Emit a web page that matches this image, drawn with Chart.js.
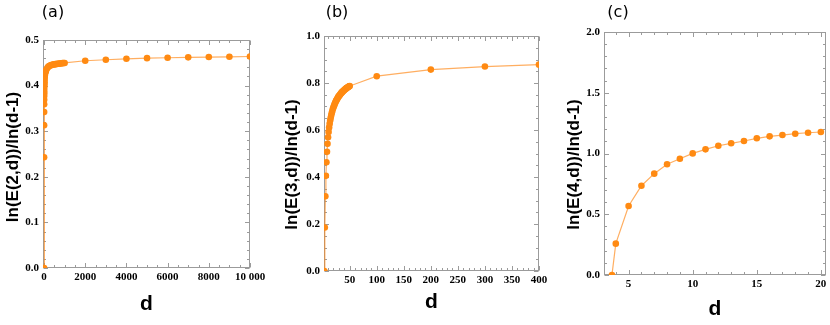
<!DOCTYPE html>
<html>
<head>
<meta charset="utf-8">
<title>ln(E(n,d))/ln(d-1)</title>
<script src="https://cdn.jsdelivr.net/npm/chart.js@4.4.1/dist/chart.umd.min.js"></script>
<style>
  html, body { margin: 0; padding: 0; background: #fff; }
  .wrap { position: relative; width: 830px; height: 325px; overflow: hidden; }
  .wrap canvas { position: absolute; top: 0; }
  #chartA { left: 0; }
  #chartB { left: 270px; }
  #chartC { left: 550px; }
</style>
</head>
<body>
<div class="wrap">
  <canvas id="chartA" width="270" height="325"></canvas>
  <canvas id="chartB" width="280" height="325"></canvas>
  <canvas id="chartC" width="280" height="325"></canvas>
</div>
<script>
/* data */

// (a) E(2,d)
const dA = [2, 3, 4, 5, 6, 7, 8, 9, 10, 12, 14, 16, 18, 20, 25, 30, 35, 40, 45, 50,
    60, 70, 80, 90, 100, 150, 200, 250, 300, 350, 400, 450, 500, 550, 600, 650,
    700, 750, 800, 850, 900, 950, 1000, 2000, 3000, 4000, 5000, 6000, 7000,
    8000, 9000, 10000];
const eA = [0, 0.243, 0.313, 0.342, 0.359, 0.369, 0.377, 0.383, 0.388, 0.395, 0.400,
    0.404, 0.407, 0.410, 0.415, 0.419, 0.422, 0.424, 0.426, 0.428,
    0.430, 0.431, 0.432, 0.433, 0.434, 0.438, 0.441, 0.443, 0.444, 0.445, 0.4455,
    0.446, 0.4465, 0.447, 0.4473, 0.4477, 0.448, 0.4483, 0.4486, 0.4489, 0.4492,
    0.4495, 0.4497, 0.4545, 0.4567, 0.4588, 0.4602, 0.4611, 0.4619, 0.4626,
    0.4632, 0.4638];

// (b) E(3,d)
const dB = [3, 4, 5, 6, 7, 8, 9, 10, 11, 12, 13, 14, 15, 16, 17, 18, 19, 20, 21, 22,
    23, 24, 25, 26, 27, 28, 29, 30, 31, 32, 33, 34, 35, 36, 37, 38, 39, 40, 41,
    42, 43, 44, 45, 46, 47, 48, 49, 50, 100, 200, 300, 400];
const eB = [0, 0.185, 0.318, 0.405, 0.463, 0.507, 0.541, 0.569, 0.592, 0.611, 0.627,
    0.641, 0.653, 0.664, 0.673, 0.682, 0.690, 0.697, 0.703, 0.709, 0.715, 0.720,
    0.725, 0.729, 0.733, 0.737, 0.741, 0.744, 0.747, 0.750, 0.753, 0.756, 0.759,
    0.761, 0.764, 0.766, 0.768, 0.770, 0.772, 0.774, 0.776, 0.778, 0.780, 0.781,
    0.783, 0.784, 0.786, 0.787, 0.829, 0.857, 0.870, 0.878];

// (c) E(4,d)
const dC = [3.7, 4, 5, 6, 7, 8, 9, 10, 11, 12, 13, 14, 15, 16, 17, 18, 19, 20];
const eC = [0, 0.258, 0.568, 0.735, 0.834, 0.911, 0.957, 1.001, 1.034, 1.064, 1.084,
    1.103, 1.125, 1.141, 1.152, 1.163, 1.171, 1.177];

// axis ranges, labelled ticks and minor tick steps
const xRangeA = [-50, 10000], yRangeA = [0, 0.5];
const xTicksA = [0, 2000, 4000, 6000, 8000, 10000];
const yTicksA = [0, 0.1, 0.2, 0.3, 0.4, 0.5];
const minorA = [500, 0.02];

const xRangeB = [2.5, 400], yRangeB = [0, 1.0];
const xTicksB = [50, 100, 150, 200, 250, 300, 350, 400];
const yTicksB = [0, 0.2, 0.4, 0.6, 0.8, 1.0];
const minorB = [10, 0.05];

const xRangeC = [3.08, 20.4], yRangeC = [0, 2.0];
const xTicksC = [5, 10, 15, 20];
const yTicksC = [0, 0.5, 1.0, 1.5, 2.0];
const minorC = [1, 0.1];

/* plugins */

// Mathematica-style frame with inward ticks on all four sides
const frameTicks = {
    id: 'frameTicks',
    beforeDatasetsDraw(chart, args, opts) {
        const { ctx, chartArea: a, scales: { x, y } } = chart;
        const L = Math.round(a.left) + 0.5, R = Math.round(a.right) - 0.5;
        const T = Math.round(a.top) + 0.5, B = Math.round(a.bottom) - 0.5;
        ctx.save();
        ctx.strokeStyle = '#9b9b9b';
        ctx.lineWidth = 1;
        ctx.strokeRect(L, T, R - L, B - T);

        const marks = (scale, minor) => {
            const majors = scale.ticks.map(t => t.value);
            const out = [];
            const first = Math.ceil(scale.min / minor - 1e-9);
            for (let i = first; i * minor <= scale.max + minor * 1e-6; i++) {
                const v = i * minor;
                const major = majors.some(m => Math.abs(m - v) < minor * 1e-3);
                out.push({ p: Math.round(scale.getPixelForValue(v)) + 0.5, len: major ? 4.5 : 2.5 });
            }
            return out;
        };

        ctx.beginPath();
        marks(x, opts.xMinor).forEach(m => {
            ctx.moveTo(m.p, B); ctx.lineTo(m.p, B - m.len);
            ctx.moveTo(m.p, T); ctx.lineTo(m.p, T + m.len);
        });
        marks(y, opts.yMinor).forEach(m => {
            ctx.moveTo(L, m.p); ctx.lineTo(L + m.len, m.p);
            ctx.moveTo(R, m.p); ctx.lineTo(R - m.len, m.p);
        });
        ctx.stroke();
        ctx.restore();
    }
};

// panel tag "(a)" and the rotated y title, placed relative to the frame
const panelText = {
    id: 'panelText',
    afterDraw(chart, args, opts) {
        const { ctx, chartArea: a } = chart;
        ctx.save();
        ctx.fillStyle = '#000';
        ctx.textAlign = 'center';
        ctx.textBaseline = 'middle';
        ctx.font = '16px "DejaVu Sans", sans-serif';
        ctx.fillText(opts.label, a.left + opts.labelDx, 13);

        ctx.translate(opts.titleX, (a.top + a.bottom) / 2 + opts.titleDy);
        ctx.rotate(-Math.PI / 2);
        ctx.font = 'bold 17px "Liberation Sans", Arial, sans-serif';
        ctx.fillText(opts.title, 0, 0);
        ctx.restore();
    }
};

/* panel builder */

const tickFont = { family: '"Liberation Serif", "Times New Roman", serif', size: 11, weight: 'bold' };
const xTitleFont = { family: '"Liberation Sans", Arial, sans-serif', size: 21, weight: 'bold' };

const fmtX = v => v >= 10000 ? '10 000' : String(v);

function makePanel(id, p) {
    const points = p.d.map((d, i) => ({ x: d, y: p.e[i] }));
    new Chart(document.getElementById(id), {
        type: 'scatter',
        data: {
            datasets: [{
                data: points,
                showLine: true,
                borderColor: 'rgba(255, 140, 30, 0.7)',
                borderWidth: 1.2,
                backgroundColor: '#ff8a12',
                pointBackgroundColor: '#ff8a12',
                pointBorderWidth: 0,
                pointRadius: 3.3,
                clip: 0,
            }],
        },
        options: {
            responsive: false,
            animation: false,
            layout: { padding: { top: p.top, right: p.right, bottom: 0, left: 0 } },
            plugins: {
                legend: { display: false },
                tooltip: { enabled: false },
                frameTicks: { xMinor: p.minor[0], yMinor: p.minor[1] },
                panelText: {
                    label: p.label, labelDx: p.labelDx,
                    title: p.yTitle, titleX: p.titleX, titleDy: p.titleDy,
                },
            },
            scales: {
                x: {
                    type: 'linear',
                    min: p.xRange[0],
                    max: p.xRange[1],
                    afterBuildTicks: s => { s.ticks = p.xTicks.map(v => ({ value: v })); },
                    afterFit: s => { s.height = p.xAxisH; s.paddingLeft = 0; s.paddingRight = 0; },
                    grid: { display: false, drawTicks: false },
                    border: { display: false },
                    ticks: {
                        padding: 3,
                        color: '#000',
                        font: tickFont,
                        maxRotation: 0,
                        autoSkip: false,
                        callback: fmtX,
                    },
                    title: {
                        display: true, text: 'd', color: '#000', font: xTitleFont,
                        padding: { top: 0, bottom: p.xTitlePad },
                    },
                },
                y: {
                    min: p.yRange[0],
                    max: p.yRange[1],
                    afterBuildTicks: s => { s.ticks = p.yTicks.map(v => ({ value: v })); },
                    afterFit: s => { s.width = p.yAxisW; s.paddingTop = 0; s.paddingBottom = 0; },
                    grid: { display: false, drawTicks: false },
                    border: { display: false },
                    ticks: {
                        padding: 4,
                        color: '#000',
                        font: tickFont,
                        autoSkip: false,
                        callback: v => v.toFixed(1),
                    },
                },
            },
        },
        plugins: [frameTicks, panelText],
    });
}

makePanel('chartA', {
    d: dA, e: eA, xRange: xRangeA, yRange: yRangeA, xTicks: xTicksA, yTicks: yTicksA, minor: minorA,
    label: '(a)', labelDx: 10, yTitle: 'ln(E(2,d))/ln(d-1)', titleX: 13, titleDy: 3,
    top: 40, right: 20, yAxisW: 43, xAxisH: 57, xTitlePad: 8.4,
});
makePanel('chartB', {
    d: dB, e: eB, xRange: xRangeB, yRange: yRangeB, xTicks: xTicksB, yTicks: yTicksB, minor: minorB,
    label: '(b)', labelDx: 13, yTitle: 'ln(E(3,d))/ln(d-1)', titleX: 22.5, titleDy: 11,
    top: 36, right: 11, yAxisW: 54, xAxisH: 54, xTitlePad: 10,
});
makePanel('chartC', {
    d: dC, e: eC, xRange: xRangeC, yRange: yRangeC, xTicks: xTicksC, yTicks: yTicksC, minor: minorC,
    label: '(c)', labelDx: 14, yTitle: 'ln(E(4,d))/ln(d-1)', titleX: 24, titleDy: 11,
    top: 32, right: 3, yAxisW: 54, xAxisH: 50, xTitlePad: 3.4,
});
</script>
</body>
</html>
